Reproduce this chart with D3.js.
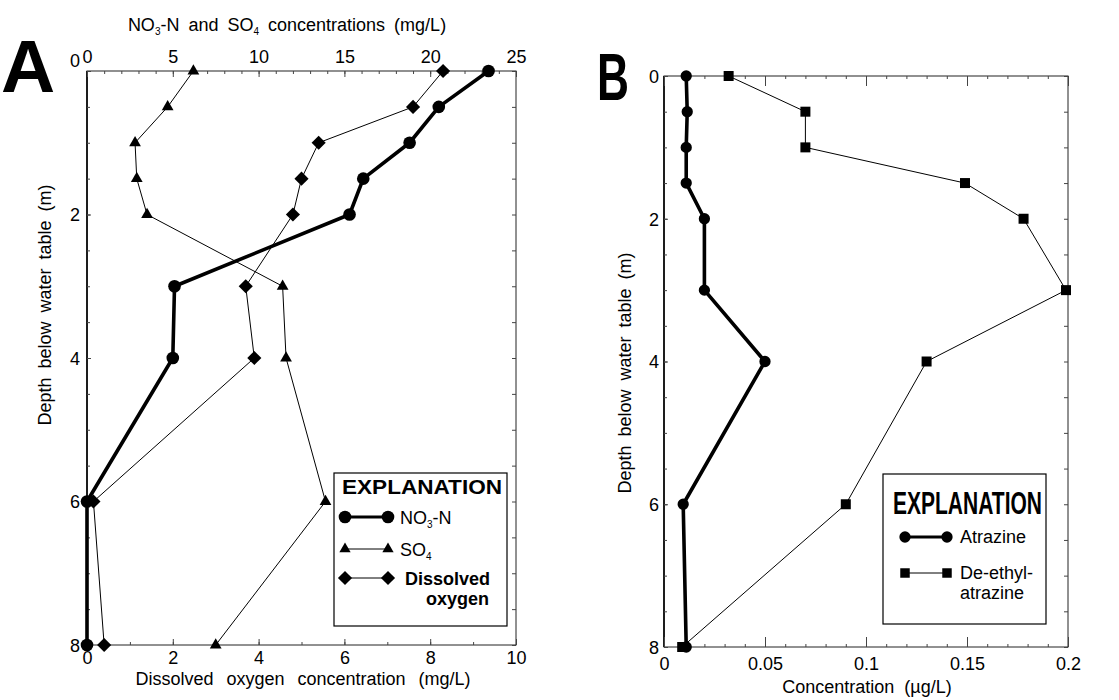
<!DOCTYPE html>
<html lang="en">
<head>
<meta charset="utf-8">
<title>Depth profiles</title>
<script src="https://cdn.jsdelivr.net/npm/d3@7"></script>
<style>
  body { margin: 0; background: #fff; }
  svg text { font-family: "Liberation Sans", Arial, Helvetica, sans-serif; }
  .tick text { font-size: 18px; fill: #000; }
  .tick line { stroke: #444; }
</style>
</head>
<body>
<script>
// depth below water table (m), shared by all series
const depth = [0, 0.5, 1, 1.5, 2, 3, 4, 6, 8];

// panel A, mg/L
const no3n = [23.4, 20.5, 18.8, 16.1, 15.3, 5.1, 5.0, 0, 0];
const so4 = [6.2, 4.7, 2.8, 2.9, 3.5, 11.4, 11.6, 13.9, 7.5];
const dissolvedOxygen = [8.3, 7.6, 5.4, 5.0, 4.8, 3.7, 3.9, 0.15, 0.4];

// panel B, ug/L
const atrazine = [0.011, 0.0115, 0.011, 0.011, 0.020, 0.020, 0.050, 0.0095, 0.011];
const deethylAtrazine = [0.032, 0.070, 0.070, 0.149, 0.178, 0.199, 0.130, 0.090, 0.009];

// tick labels
const depthTicks = [0, 2, 4, 6, 8];
const topTicksA = [0, 5, 10, 15, 20, 25];
const bottomTicksA = [0, 2, 4, 6, 8, 10];
const ticksB = [0, 0.05, 0.1, 0.15, 0.2];

var svg = d3.select("body").append("svg")
    .attr("width", 1119)
    .attr("height", 700);

// scales
var xTopA = d3.scaleLinear().domain([0, 25]).range([87, 516]);
var xBotA = d3.scaleLinear().domain([0, 10]).range([87, 516]);
var yA = d3.scaleLinear().domain([0, 8]).range([71, 645]);

var xB = d3.scaleLinear().domain([0, 0.2]).range([664, 1068]);
var yB = d3.scaleLinear().domain([0, 8]).range([76, 647]);

// frame + inward ticks for one panel
function frame(x, y, opts) {
  var g = svg.append("g");
  var x0 = x.range()[0], x1 = x.range()[1];
  var y0 = y.range()[0], y1 = y.range()[1];

  g.append("rect")
      .attr("x", x0).attr("y", y0)
      .attr("width", x1 - x0).attr("height", y1 - y0)
      .attr("fill", "none").attr("stroke", "#222").attr("stroke-width", 1);
  g.append("line")
      .attr("x1", x0).attr("x2", x0).attr("y1", y0).attr("y2", y1)
      .attr("stroke", "#000").attr("stroke-width", 1.6);

  var minorY = d3.range(0, 8.01, 0.5);
  // left
  g.append("g").attr("transform", "translate(" + x0 + ",0)")
      .call(d3.axisLeft(y).tickValues(minorY).tickSize(-3).tickFormat(""))
      .call(a => a.select(".domain").remove());
  g.append("g").attr("transform", "translate(" + x0 + ",0)")
      .call(d3.axisLeft(y).tickValues(depthTicks).tickSize(-4).tickPadding(opts.yPad).tickFormat(d3.format("d")))
      .call(a => a.select(".domain").remove())
      .selectAll("text")
      .attr("dy", d => (d === 0 ? opts.zeroDy : "0.35em"));
  // right
  g.append("g").attr("transform", "translate(" + x1 + ",0)")
      .call(d3.axisRight(y).tickValues(minorY).tickSize(-4).tickFormat(""))
      .call(a => a.select(".domain").remove());

  return g;
}

function hTicks(g, scale, yPos, orient, minor, major, majorLen, labels, fmt, pad) {
  var axis = orient === "top" ? d3.axisTop : d3.axisBottom;
  g.append("g").attr("transform", "translate(0," + yPos + ")")
      .call(axis(scale).tickValues(minor).tickSize(-3).tickFormat(""))
      .call(a => a.select(".domain").remove());
  g.append("g").attr("transform", "translate(0," + yPos + ")")
      .call(axis(scale).tickValues(major).tickSize(-majorLen).tickFormat(""))
      .call(a => a.select(".domain").remove());
  if (labels) {
    g.append("g").attr("transform", "translate(0," + yPos + ")")
        .call(axis(scale).tickValues(labels).tickSize(0).tickPadding(pad).tickFormat(fmt))
        .call(a => a.select(".domain").remove());
  }
}

function series(x, y, values, symbol, size, width) {
  var pts = values.map((v, i) => [x(v), y(depth[i])]);
  svg.append("path")
      .attr("d", d3.line()(pts))
      .attr("fill", "none")
      .attr("stroke", "#000")
      .attr("stroke-width", width)
      .attr("stroke-linejoin", "round");
  svg.append("g").selectAll("path")
      .data(pts)
      .enter()
      .append("path")
      .attr("transform", d => "translate(" + d[0] + "," + d[1] + ")" + (symbol === "diamond" ? " rotate(45)" : ""))
      .attr("d", d3.symbol().type(symbol === "diamond" ? d3.symbolSquare : symbol).size(size))
      .attr("fill", "#000");
}

function legendRow(x1, x2, y, symbol, size, width) {
  svg.append("line")
      .attr("x1", x1).attr("x2", x2).attr("y1", y).attr("y2", y)
      .attr("stroke", "#000").attr("stroke-width", width);
  [x1, x2].forEach(function(x) {
    svg.append("path")
        .attr("transform", "translate(" + x + "," + y + ")" + (symbol === "diamond" ? " rotate(45)" : ""))
        .attr("d", d3.symbol().type(symbol === "diamond" ? d3.symbolSquare : symbol).size(size))
        .attr("fill", "#000");
  });
}

// ---------- panel A ----------
var gA = frame(xTopA, yA, {yPad: 7, zeroDy: "-0.25em"});
hTicks(gA, xTopA, 71, "top", d3.range(0, 25.1, 1), topTicksA, 6, topTicksA, d3.format("d"), 8);
hTicks(gA, xBotA, 645, "bottom", d3.range(0, 10.1, 1), bottomTicksA, 6, bottomTicksA, d3.format("d"), 6);

series(xTopA, yA, so4, d3.symbolTriangle, 60, 1);
series(xBotA, yA, dissolvedOxygen, "diamond", 100, 1);
series(xTopA, yA, no3n, d3.symbolCircle, 125, 3.6);

// panel A labels
svg.append("text")
    .attr("x", 1).attr("y", 92)
    .attr("font-size", 75).attr("font-weight", "bold")
    .text("A");

var topTitle = svg.append("text")
    .attr("x", 287).attr("y", 31)
    .attr("text-anchor", "middle")
    .attr("font-size", 18)
    .attr("word-spacing", 4);
topTitle.append("tspan").text("NO");
topTitle.append("tspan").attr("font-size", 10).attr("dy", 4).text("3");
topTitle.append("tspan").attr("dy", -4).text("-N and SO");
topTitle.append("tspan").attr("font-size", 10).attr("dy", 4).text("4");
topTitle.append("tspan").attr("dy", -4).text(" concentrations (mg/L)");

svg.append("text")
    .attr("x", 303).attr("y", 685)
    .attr("text-anchor", "middle")
    .attr("font-size", 18)
    .attr("word-spacing", 8)
    .text("Dissolved oxygen concentration (mg/L)");

svg.append("text")
    .attr("transform", "translate(51,305) rotate(-90)")
    .attr("text-anchor", "middle")
    .attr("font-size", 18)
    .attr("word-spacing", 4)
    .text("Depth below water table (m)");

// legend A
svg.append("rect")
    .attr("x", 334).attr("y", 473).attr("width", 173).attr("height", 153)
    .attr("fill", "#fff").attr("stroke", "#000").attr("stroke-width", 1.2);
svg.append("text")
    .attr("x", 342).attr("y", 494)
    .attr("font-size", 20).attr("font-weight", "bold")
    .attr("textLength", 160).attr("lengthAdjust", "spacingAndGlyphs")
    .text("EXPLANATION");
legendRow(345, 388, 517, d3.symbolCircle, 125, 3);
legendRow(345, 388, 549, d3.symbolTriangle, 55, 1);
legendRow(345, 388, 578, "diamond", 100, 1);

var l1 = svg.append("text").attr("x", 400).attr("y", 524).attr("font-size", 18);
l1.append("tspan").text("NO");
l1.append("tspan").attr("font-size", 10).attr("dy", 4).text("3");
l1.append("tspan").attr("dy", -4).text("-N");
var l2 = svg.append("text").attr("x", 400).attr("y", 556).attr("font-size", 18);
l2.append("tspan").text("SO");
l2.append("tspan").attr("font-size", 10).attr("dy", 4).text("4");
svg.append("text")
    .attr("x", 490).attr("y", 585)
    .attr("text-anchor", "end")
    .attr("font-size", 18).attr("font-weight", "bold")
    .text("Dissolved");
svg.append("text")
    .attr("x", 489).attr("y", 605)
    .attr("text-anchor", "end")
    .attr("font-size", 18).attr("font-weight", "bold")
    .text("oxygen");

// ---------- panel B ----------
var gB = frame(xB, yB, {yPad: 5, zeroDy: "0.35em"});
hTicks(gB, xB, 76, "top", d3.range(0, 0.201, 0.01), ticksB, 10, null);
hTicks(gB, xB, 647, "bottom", d3.range(0, 0.201, 0.01), ticksB, 10, ticksB, d => (d === 0 ? "0" : d3.format("")(d)), 10);

series(xB, yB, deethylAtrazine, d3.symbolSquare, 100, 1);
series(xB, yB, atrazine, d3.symbolCircle, 100, 3.6);

svg.append("text")
    .attr("x", 597).attr("y", 100)
    .attr("font-size", 66).attr("font-weight", "bold")
    .attr("textLength", 32).attr("lengthAdjust", "spacingAndGlyphs")
    .text("B");

svg.append("text")
    .attr("x", 867).attr("y", 693)
    .attr("text-anchor", "middle")
    .attr("font-size", 18)
    .attr("word-spacing", 5)
    .text("Concentration (\u00b5g/L)");

svg.append("text")
    .attr("transform", "translate(631,373) rotate(-90)")
    .attr("text-anchor", "middle")
    .attr("font-size", 18)
    .attr("word-spacing", 4)
    .text("Depth below water table (m)");

// legend B
svg.append("rect")
    .attr("x", 883).attr("y", 474).attr("width", 163).attr("height", 150)
    .attr("fill", "#fff").attr("stroke", "#000").attr("stroke-width", 1.2);
svg.append("text")
    .attr("x", 893).attr("y", 514)
    .attr("font-size", 32).attr("font-weight", "bold")
    .attr("textLength", 149).attr("lengthAdjust", "spacingAndGlyphs")
    .text("EXPLANATION");
legendRow(905, 947, 537, d3.symbolCircle, 100, 3);
legendRow(905, 947, 573, d3.symbolSquare, 90, 1);
svg.append("text").attr("x", 960).attr("y", 543).attr("font-size", 18).text("Atrazine");
svg.append("text").attr("x", 960).attr("y", 579).attr("font-size", 18).text("De-ethyl-");
svg.append("text").attr("x", 960).attr("y", 599).attr("font-size", 18).text("atrazine");
</script>
</body>
</html>
